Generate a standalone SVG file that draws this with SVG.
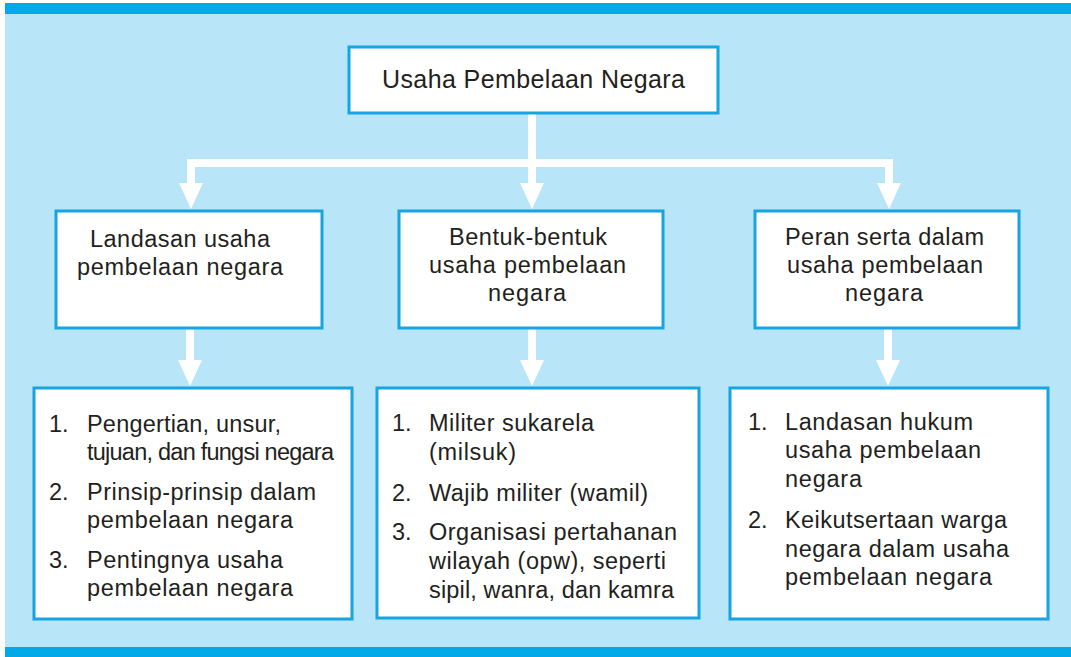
<svg xmlns="http://www.w3.org/2000/svg" width="1071" height="657" viewBox="0 0 1071 657">
<style>
.box{fill:#ffffff;stroke:#17a5e2;stroke-width:3}
.con{fill:none;stroke:#ffffff;stroke-width:8;stroke-linejoin:miter}
text{font-family:"Liberation Sans",Arial,Helvetica,sans-serif;font-size:23.5px;fill:#231f20}
.title{font-size:25px}
</style>
<defs>
<marker id="ah" markerUnits="userSpaceOnUse" viewBox="0 -12 26 24" markerWidth="26" markerHeight="24" refX="0" refY="0" orient="auto-start-reverse">
<path d="M0,-12 L26,0 L0,12 z" fill="#ffffff"/>
</marker>
</defs>
<rect x="0" y="0" width="1071" height="657" fill="#ffffff"/>
<rect x="5" y="3" width="1066" height="654" fill="#b9e5f8"/>
<rect x="5" y="3" width="1066" height="11" fill="#00a9e8"/>
<rect x="5" y="647" width="1066" height="10" fill="#00a9e8"/>

<g id="connectors">
<path class="con" d="M191,183 V163 H889 V183" marker-start="url(#ah)" marker-end="url(#ah)"/>
<path class="con" d="M532,113 V183" marker-end="url(#ah)"/>
<path class="con" d="M190,328 V360" marker-end="url(#ah)"/>
<path class="con" d="M532,328 V360" marker-end="url(#ah)"/>
<path class="con" d="M888,328 V360" marker-end="url(#ah)"/>
</g>

<g id="root">
<rect class="box" x="349" y="47" width="369" height="66"/>
<text class="title" x="382" y="88" textLength="303" lengthAdjust="spacing">Usaha Pembelaan Negara</text>
</g>

<g id="landasan">
<rect class="box" x="56" y="211" width="266" height="117"/>
<text x="90" y="247" textLength="180" lengthAdjust="spacing">Landasan usaha</text>
<text x="77" y="275" textLength="206" lengthAdjust="spacing">pembelaan negara</text>
</g>

<g id="bentuk">
<rect class="box" x="399" y="211" width="264" height="117"/>
<text x="449" y="245" textLength="158" lengthAdjust="spacing">Bentuk-bentuk</text>
<text x="429" y="273" textLength="197" lengthAdjust="spacing">usaha pembelaan</text>
<text x="488" y="301" textLength="78" lengthAdjust="spacing">negara</text>
</g>

<g id="peran">
<rect class="box" x="755" y="211" width="264" height="117"/>
<text x="785" y="245" textLength="199" lengthAdjust="spacing">Peran serta dalam</text>
<text x="787" y="273" textLength="196" lengthAdjust="spacing">usaha pembelaan</text>
<text x="845" y="301" textLength="78" lengthAdjust="spacing">negara</text>
</g>

<g id="list-landasan">
<rect class="box" x="34" y="388" width="318" height="231"/>
<text x="49" y="432">1.</text>
<text x="87" y="432" textLength="194" lengthAdjust="spacing">Pengertian, unsur,</text>
<text x="87" y="460" textLength="247" lengthAdjust="spacing">tujuan, dan fungsi negara</text>
<text x="49" y="500">2.</text>
<text x="87" y="500" textLength="229" lengthAdjust="spacing">Prinsip-prinsip dalam</text>
<text x="87" y="528" textLength="206" lengthAdjust="spacing">pembelaan negara</text>
<text x="49" y="568">3.</text>
<text x="87" y="568" textLength="196" lengthAdjust="spacing">Pentingnya usaha</text>
<text x="87" y="596" textLength="206" lengthAdjust="spacing">pembelaan negara</text>
</g>

<g id="list-bentuk">
<rect class="box" x="377" y="388" width="322" height="230"/>
<text x="392" y="431">1.</text>
<text x="429" y="431" textLength="165" lengthAdjust="spacing">Militer sukarela</text>
<text x="429" y="460" textLength="87" lengthAdjust="spacing">(milsuk)</text>
<text x="392" y="501">2.</text>
<text x="429" y="501" textLength="219" lengthAdjust="spacing">Wajib militer (wamil)</text>
<text x="392" y="540">3.</text>
<text x="429" y="540" textLength="248" lengthAdjust="spacing">Organisasi pertahanan</text>
<text x="429" y="569" textLength="237" lengthAdjust="spacing">wilayah (opw), seperti</text>
<text x="429" y="598" textLength="245" lengthAdjust="spacing">sipil, wanra, dan kamra</text>
</g>

<g id="list-peran">
<rect class="box" x="730" y="388" width="318" height="231"/>
<text x="748" y="430">1.</text>
<text x="785" y="430" textLength="188" lengthAdjust="spacing">Landasan hukum</text>
<text x="785" y="458" textLength="196" lengthAdjust="spacing">usaha pembelaan</text>
<text x="785" y="487" textLength="77" lengthAdjust="spacing">negara</text>
<text x="748" y="528">2.</text>
<text x="785" y="528" textLength="222" lengthAdjust="spacing">Keikutsertaan warga</text>
<text x="785" y="557" textLength="224" lengthAdjust="spacing">negara dalam usaha</text>
<text x="785" y="585" textLength="207" lengthAdjust="spacing">pembelaan negara</text>
</g>
</svg>
